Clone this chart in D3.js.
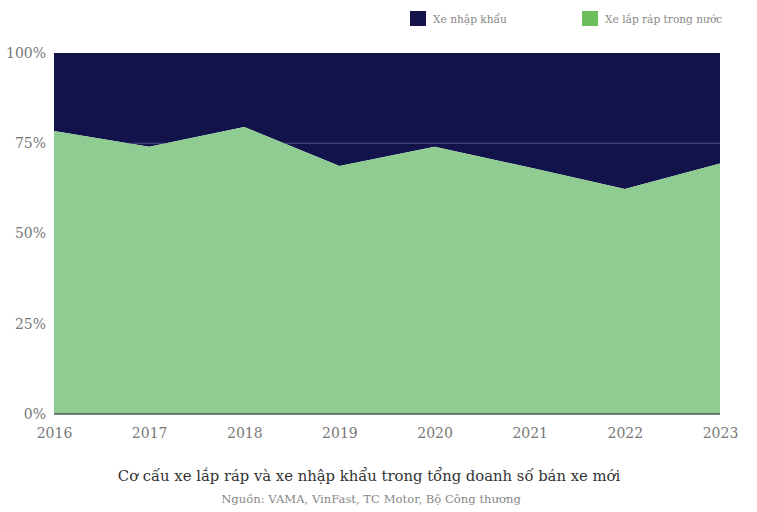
<!DOCTYPE html>
<html>
<head>
<meta charset="utf-8">
<script src="https://cdn.jsdelivr.net/npm/d3@7"></script>
<style>
  body { margin: 0; background: #fff; }
  text { font-family: "DejaVu Serif", serif; }
</style>
</head>
<body>
<div class="chart-container"></div>
<script>
var years = [2016, 2017, 2018, 2019, 2020, 2021, 2022, 2023];
var domestic = [78.4, 74.0, 79.5, 68.7, 74.0, 68.3, 62.3, 69.4];
var imported = [21.6, 26.0, 20.5, 31.3, 26.0, 31.7, 37.7, 30.6];
var yTicks = [0, 25, 50, 75, 100];
var seriesNames = ['Xe nhập khẩu', 'Xe lắp ráp trong nước'];

var totalWidth = 757;
var totalHeight = 512;
var margin = { top: 53, bottom: 98, left: 54, right: 37 };
var width = totalWidth - margin.left - margin.right;
var height = totalHeight - margin.top - margin.bottom;

var rows = years.map((y, i) => ({ year: y, domestic: domestic[i], imported: imported[i] }));

var svg = d3.select('.chart-container').append('svg')
  .attr('width', totalWidth)
  .attr('height', totalHeight);

var x = d3.scaleLinear()
  .domain(d3.extent(years))
  .range([0, width]);

var y = d3.scaleLinear()
  .domain([0, 100])
  .range([height, 0]);

var stack = d3.stack().keys(['domestic', 'imported']);
var layers = stack(rows);

var area = d3.area()
  .x(d => x(d.data.year))
  .y0(d => y(d[0]))
  .y1(d => y(d[1]));

var g = svg.append('g')
  .attr('transform', `translate(${margin.left}, ${margin.top})`);

// navy on top, drawn first so the grid line shows over it but not over green
g.append('path')
  .datum(layers[1])
  .attr('fill', '#12134b')
  .attr('d', area);

g.selectAll('.grid')
  .data([75]).enter()
  .append('line')
    .attr('x1', 0).attr('x2', width)
    .attr('y1', d => y(d)).attr('y2', d => y(d))
    .attr('stroke', '#4d4f85')
    .attr('stroke-width', 1);

g.append('path')
  .datum(layers[0])
  .attr('fill', '#8fcc92')
  .attr('d', area);

g.append('line')
  .attr('x1', 0).attr('x2', width)
  .attr('y1', y(0)).attr('y2', y(0))
  .attr('stroke', '#4a5a5a')
  .attr('stroke-width', 1.5);

/*
 * Axes
 */
var yAxis = d3.axisLeft(y).tickValues(yTicks).tickSize(0).tickPadding(8).tickFormat(d => d + '%');
var gY = g.append('g').call(yAxis);
gY.select('.domain').remove();
gY.selectAll('text').attr('fill', '#777').style('font-size', '14px');

var xAxis = d3.axisBottom(x).tickValues(years).tickSize(0).tickPadding(14).tickFormat(d3.format('d'));
var gX = g.append('g')
  .attr('transform', `translate(0, ${height})`)
  .call(xAxis);
gX.select('.domain').remove();
gX.selectAll('text').attr('fill', '#777').style('font-size', '14px');

/*
 * Legend
 */
var legendColors = ['#14144a', '#6cbf5c'];
var legendX = [410, 582];
var legend = svg.selectAll('.legend')
  .data(seriesNames).enter()
  .append('g')
    .attr('transform', (d, i) => `translate(${legendX[i]}, 11)`);
legend.append('rect')
  .attr('width', 16).attr('height', 15)
  .attr('fill', (d, i) => legendColors[i]);
legend.append('text')
  .attr('x', 23).attr('y', 12)
  .attr('fill', '#888')
  .style('font-size', '10.6px')
  .text(d => d);

/*
 * Title and source
 */
svg.append('text')
  .attr('x', 369).attr('y', 481)
  .attr('text-anchor', 'middle')
  .attr('fill', '#333')
  .style('font-size', '14.8px')
  .text('Cơ cấu xe lắp ráp và xe nhập khẩu trong tổng doanh số bán xe mới');

svg.append('text')
  .attr('x', 371).attr('y', 503)
  .attr('text-anchor', 'middle')
  .attr('fill', '#888')
  .style('font-size', '11.6px')
  .text('Nguồn: VAMA, VinFast, TC Motor, Bộ Công thương');
</script>
</body>
</html>
